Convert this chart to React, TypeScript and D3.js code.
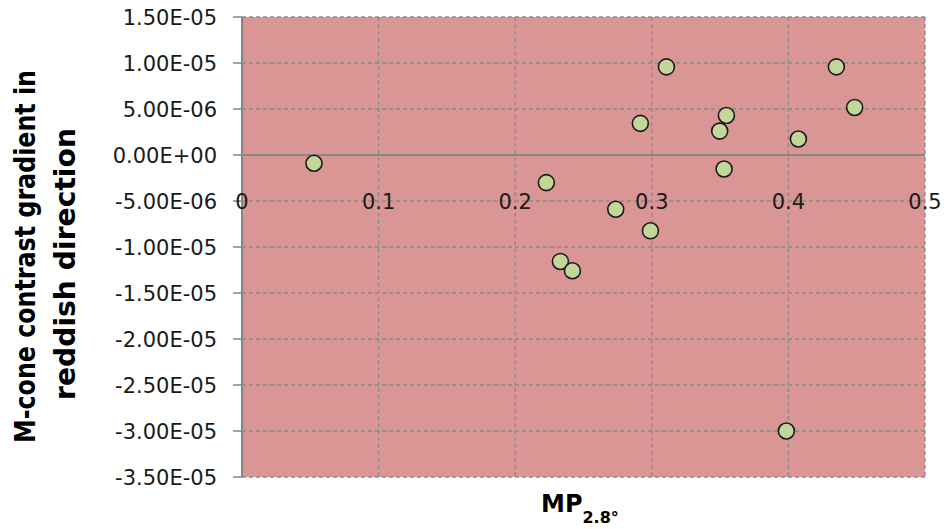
import React from "react";
import * as d3 from "d3";

const xValues = [0.0527, 0.2228, 0.2736, 0.3529, 0.3107, 0.4351, 0.4485, 0.2916, 0.3546, 0.3497, 0.4073, 0.299, 0.2331, 0.2419, 0.3985];
const yValues = [-9.0e-7, -3.0e-6, -5.9e-6, -1.52e-6, 9.58e-6, 9.58e-6, 5.17e-6, 3.44e-6, 4.3e-6, 2.6e-6, 1.74e-6, -8.24e-6, -1.157e-5, -1.258e-5, -3.0e-5];
const xTicks = [0, 0.1, 0.2, 0.3, 0.4, 0.5];
const xTickLabels = ["0", "0.1", "0.2", "0.3", "0.4", "0.5"];
const yTicks = [1.5e-5, 1.0e-5, 5.0e-6, 0, -5.0e-6, -1.0e-5, -1.5e-5, -2.0e-5, -2.5e-5, -3.0e-5, -3.5e-5];
const yTickLabels = ["1.50E-05", "1.00E-05", "5.00E-06", "0.00E+00", "-5.00E-06", "-1.00E-05", "-1.50E-05", "-2.00E-05", "-2.50E-05", "-3.00E-05", "-3.50E-05"];
const yTitleLines = ["M-cone contrast gradient in", "reddish direction"];
const xTitleMain = "MP";
const xTitleSub = "2.8°";

export default function App() {
  const W = 947, H = 529;
  const left = 242, right = 925, top = 17, bottom = 477;
  const x = d3.scaleLinear().domain([0, 0.5]).range([left, right]);
  const y = d3.scaleLinear().domain([-3.5e-5, 1.5e-5]).range([bottom, top]);
  const grid = "#8a8a8a";
  const font = "DejaVu Sans, sans-serif";
  const txt = "#1a1a1a";
  const data = xValues.map((v, i) => ({ x: v, y: yValues[i] }));
  const xLabelY = y(-5e-6);

  return (
    <svg width={W} height={H} style={{ position: "absolute", left: 0, top: 0, background: "#fff" }}>
      <rect x={left} y={top} width={right - left} height={bottom - top} fill="#D99694" />
      {yTicks.map((t, i) => (
        <line key={"hg" + i} x1={left} x2={right} y1={y(t)} y2={y(t)} stroke={grid} strokeWidth={1.3}
          strokeDasharray={t === 0 ? undefined : "4,3"} />
      ))}
      {xTicks.map((t, i) => (
        t === 0 ? null :
        <line key={"vg" + i} x1={x(t)} x2={x(t)} y1={top} y2={bottom} stroke={grid} strokeWidth={1.3} strokeDasharray="4,3" />
      ))}
      <line x1={x(0)} x2={x(0)} y1={top} y2={bottom} stroke="#868686" strokeWidth={2} />
      <line x1={left} x2={right} y1={y(0)} y2={y(0)} stroke="#868686" strokeWidth={1.5} />
      {yTicks.map((t, i) => (
        <line key={"yt" + i} x1={left - 9} x2={left} y1={y(t)} y2={y(t)} stroke="#868686" strokeWidth={1.5} />
      ))}
      {yTicks.map((t, i) => (
        <text key={"yl" + i} x={217} y={y(t) + 7.6} textAnchor="end" fontFamily={font} fontSize={21} fill={txt}>
          {yTickLabels[i]}
        </text>
      ))}
      {xTicks.map((t, i) => (
        <text key={"xl" + i} x={x(t)} y={xLabelY + 7.6} textAnchor="middle" fontFamily={font} fontSize={21} fill={txt}>
          {xTickLabels[i]}
        </text>
      ))}
      {data.map((d, i) => (
        <circle key={"p" + i} cx={x(d.x)} cy={y(d.y)} r={8} fill="#C4D79B" stroke="#1a1a1a" strokeWidth={1.6} />
      ))}
      <text transform={`translate(35,256.5) rotate(-90)`} textAnchor="middle" fontFamily={font} fontSize={29} fontWeight="bold" fill="#000"
        textLength={373} lengthAdjust="spacingAndGlyphs">
        {yTitleLines[0]}
      </text>
      <text transform={`translate(75,264) rotate(-90)`} textAnchor="middle" fontFamily={font} fontSize={29} fontWeight="bold" fill="#000"
        textLength={272} lengthAdjust="spacingAndGlyphs">
        {yTitleLines[1]}
      </text>
      <text x={541} y={511.5} fontFamily={font} fontSize={24} fontWeight="bold" fill="#000">
        {xTitleMain}
        <tspan dy={11} fontSize={16}>{xTitleSub}</tspan>
      </text>
    </svg>
  );
}
